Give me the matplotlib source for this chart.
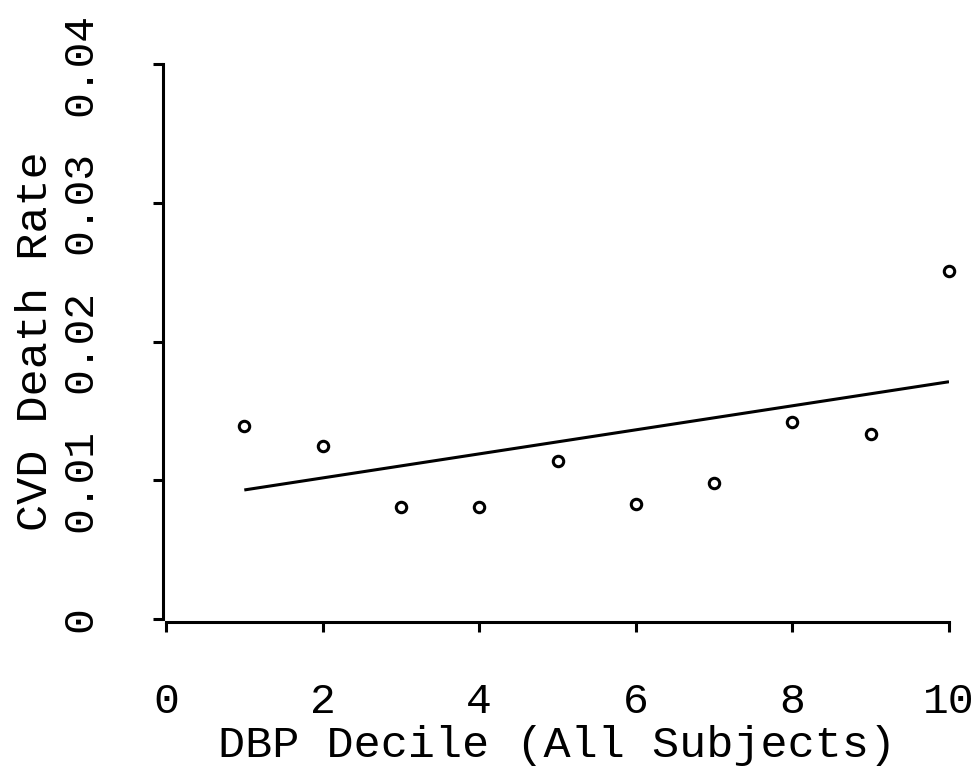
import matplotlib
matplotlib.use("Agg")
import matplotlib.pyplot as plt
import numpy as np

# DBP deciles and CVD death rates
deciles = [1, 2, 3, 4, 5, 6, 7, 8, 9, 10]
death_rate = [0.0139, 0.01245, 0.00806, 0.00806, 0.01137,
              0.00827, 0.00978, 0.01417, 0.01331, 0.02511]

# fitted line endpoints
fit_x = [1, 10]
fit_y = [0.0093, 0.0171]

x_ticks = [0, 2, 4, 6, 8, 10]
y_ticks = [0, 0.01, 0.02, 0.03, 0.04]
y_tick_labels = ["0", "0.01", "0.02", "0.03", "0.04"]

plt.rcParams['font.family'] = ['Liberation Mono', 'DejaVu Sans Mono']

fig = plt.figure(figsize=(9.78, 7.71), dpi=100)
ax = fig.add_axes([166 / 978, 1 - 619 / 771, (949 - 166) / 978, (619 - 64) / 771])

ax.plot(fit_x, fit_y, color='black', linewidth=2.2, solid_capstyle='butt')
ax.plot(deciles, death_rate, linestyle='none', marker='o', markersize=7.5,
        markerfacecolor='white', markeredgecolor='black', markeredgewidth=2.2,
        clip_on=False)

ax.set_xlim(0, 10)
ax.set_ylim(0, 0.04)

for side in ['top', 'right']:
    ax.spines[side].set_visible(False)
for side in ['left', 'bottom']:
    ax.spines[side].set_linewidth(2.2)
    ax.spines[side].set_position(('outward', 2.3))

ax.set_xticks(x_ticks)
ax.set_xticklabels([str(t) for t in x_ticks])
ax.set_yticks(y_ticks)
ax.set_yticklabels(y_tick_labels, rotation=90, va='center')

ax.tick_params(axis='both', direction='out', length=7.2, width=2.2,
               labelsize=31, colors='black')
ax.tick_params(axis='x', pad=36)
ax.tick_params(axis='y', pad=38)

ax.set_xlabel("DBP Decile (All Subjects)", fontsize=32.5, labelpad=2)
ax.set_ylabel("CVD Death Rate", fontsize=32.5, labelpad=3)

fig.savefig("out.png", dpi=100)
